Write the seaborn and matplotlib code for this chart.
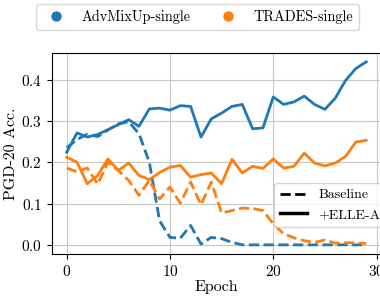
import numpy as np
import matplotlib
matplotlib.use("Agg")
import matplotlib.pyplot as plt
from matplotlib.lines import Line2D
import pandas as pd
import seaborn as sns

plt.rcParams.update({
    "font.family": "serif",
    "font.serif": ["cmr10", "DejaVu Serif"],
    "axes.formatter.use_mathtext": True,
    "mathtext.fontset": "cm",
    "font.size": 11,
    "axes.unicode_minus": False,
})

# values
epochs = list(range(30))
adv_elle = [0.224, 0.271, 0.261, 0.267, 0.279, 0.291, 0.303, 0.287, 0.329, 0.331,
            0.326, 0.337, 0.335, 0.261, 0.305, 0.319, 0.335, 0.340, 0.281, 0.283,
            0.358, 0.340, 0.346, 0.360, 0.340, 0.328, 0.355, 0.398, 0.427, 0.443]
adv_base = [0.235, 0.255, 0.268, 0.262, 0.278, 0.293, 0.298, 0.269, 0.200, 0.058,
            0.018, 0.016, 0.047, 0.002, 0.018, 0.015, 0.006, 0.000, 0.000, 0.000,
            0.000, 0.000, 0.000, 0.000, 0.000, 0.000, 0.000, 0.000, 0.000, 0.000]
trades_elle = [0.212, 0.200, 0.148, 0.168, 0.208, 0.180, 0.198, 0.168, 0.158, 0.175,
               0.188, 0.192, 0.164, 0.170, 0.174, 0.148, 0.207, 0.174, 0.190, 0.185,
               0.208, 0.186, 0.190, 0.222, 0.198, 0.191, 0.198, 0.214, 0.249, 0.253]
trades_base = [0.186, 0.177, 0.186, 0.147, 0.200, 0.180, 0.156, 0.120, 0.156, 0.111,
               0.140, 0.101, 0.152, 0.097, 0.152, 0.077, 0.083, 0.089, 0.088, 0.083,
               0.051, 0.027, 0.017, 0.010, 0.006, 0.012, 0.004, 0.005, 0.005, 0.003]

methods = ["AdvMixUp-single", "TRADES-single"]
colors = {"AdvMixUp-single": "#1f77b4", "TRADES-single": "#ff7f0e"}

rows = []
for m, v, vals in [("AdvMixUp-single", "+ELLE-A", adv_elle),
                   ("TRADES-single", "+ELLE-A", trades_elle),
                   ("AdvMixUp-single", "Baseline", adv_base),
                   ("TRADES-single", "Baseline", trades_base)]:
    for e, a in zip(epochs, vals):
        rows.append({"epoch": e, "acc": a, "method": m, "variant": v})
df = pd.DataFrame(rows)

fig = plt.figure(figsize=(3.8, 2.97), dpi=100)
# axes runs right up to the image edge, as in the (cropped) reference
ax = fig.add_axes([51.7 / 380, 1 - 254 / 297, (381.2 - 51.7) / 380, (254 - 52.7) / 297])

sns.lineplot(data=df, x="epoch", y="acc", hue="method", style="variant",
             palette=colors, dashes={"+ELLE-A": "", "Baseline": (3.7, 1.6)},
             linewidth=2, legend=False, ax=ax)

ax.grid(True, color="#c8c8c8", linewidth=0.8)
ax.set_axisbelow(True)
ax.set_xticks([0, 10, 20, 30])
ax.set_yticks([0.0, 0.1, 0.2, 0.3, 0.4])
ax.set_xlim(-1.45, 30.45)
ax.set_xlabel("Epoch", fontsize=11.5, labelpad=1)
ax.set_ylabel("PGD-20 Acc.", fontsize=11.5, labelpad=2)

top_handles = [Line2D([], [], marker="o", linestyle="", color=colors[m], markersize=6.5)
               for m in methods]
fig.legend(top_handles, methods, loc="upper left", ncol=2, fontsize=10.3,
           bbox_to_anchor=(36 / 380, 1 - 4 / 297), borderaxespad=0,
           columnspacing=1.6)

style_handles = [Line2D([], [], color="black", linewidth=2, linestyle="--"),
                 Line2D([], [], color="black", linewidth=2.5, linestyle="-")]
ax.legend(style_handles, ["Baseline", "+ELLE-A"], loc="lower left", fontsize=10,
          bbox_to_anchor=(274 / 380, 1 - 226.7 / 297), bbox_transform=fig.transFigure,
          borderaxespad=0)

fig.savefig("out.png", dpi=100)
